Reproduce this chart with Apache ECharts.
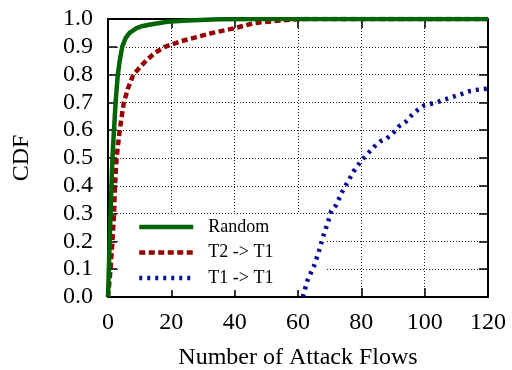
<!DOCTYPE html>
<html>
<head>
<meta charset="utf-8">
<script src="https://cdn.jsdelivr.net/npm/echarts@6/dist/echarts.min.js"></script>
<style>
  html, body { margin: 0; padding: 0; background: #fff; }
  #chart { width: 512px; height: 370px; }
</style>
</head>
<body>
<div id="chart"></div>
<script>
// CDF of the number of attack flows for three placement strategies
const xTicks = [0, 20, 40, 60, 80, 100, 120];
const yTicks = ['0.0', '0.1', '0.2', '0.3', '0.4', '0.5', '0.6', '0.7', '0.8', '0.9', '1.0'];

const seriesNames = ['Random', 'T2 -> T1', 'T1 -> T1'];

const randomFlows = [0, 0.4, 0.8, 1.1, 1.4, 1.9, 2.4, 3.1, 3.7, 4.5, 5.5, 6.8, 9, 11, 13.4, 18.7, 25, 35, 50, 120];
const randomCdf   = [0, 0.15, 0.3, 0.4, 0.5, 0.6, 0.7, 0.8, 0.85, 0.9, 0.93, 0.95, 0.967, 0.975, 0.98, 0.99, 0.995, 0.999, 1.0, 1.0];

const t2t1Flows = [0, 0.8, 1.4, 1.9, 2.2, 2.7, 3.7, 5, 6.3, 8, 12, 15, 18, 23, 28, 33, 40, 46, 52, 58, 62, 120];
const t2t1Cdf   = [0, 0.1, 0.2, 0.3, 0.4, 0.5, 0.6, 0.7, 0.75, 0.8, 0.85, 0.88, 0.9, 0.92, 0.935, 0.95, 0.967, 0.985, 0.992, 0.998, 1.0, 1.0];

const t1t1Flows = [61.5, 63, 65, 66.5, 68, 69.5, 70.5, 72, 74, 76, 78, 80, 82, 84, 86, 88, 90, 92, 94, 96, 98, 100, 102, 105, 108, 111, 114, 117, 120];
const t1t1Cdf   = [0, 0.06, 0.11, 0.16, 0.22, 0.27, 0.31, 0.33, 0.38, 0.42, 0.46, 0.49, 0.515, 0.54, 0.56, 0.57, 0.59, 0.615, 0.63, 0.655, 0.675, 0.69, 0.695, 0.705, 0.717, 0.728, 0.74, 0.746, 0.75];

const pairs = (xs, ys) => xs.map((x, i) => [x, ys[i]]);

const FONT = '"Liberation Serif", "DejaVu Serif", serif';
const axisLine = { show: true, onZero: false, lineStyle: { color: '#000', width: 2 } };
const tickIn = { show: true, inside: true, length: 9, lineStyle: { color: '#000', width: 1.5 } };
const gridDots = { show: true, lineStyle: { color: '#222', width: 1, type: [1, 2] } };

const chart = echarts.init(document.getElementById('chart'), null, { renderer: 'canvas' });
chart.setOption({
  animation: false,
  backgroundColor: '#fff',
  grid: { left: 108, right: 24, top: 19, bottom: 73, containLabel: false, outerBoundsMode: 'none' },
  xAxis: [
    {
      type: 'value', position: 'bottom', min: xTicks[0], max: xTicks[xTicks.length - 1], interval: 20,
      axisLine, axisTick: tickIn, splitLine: gridDots,
      axisLabel: { color: '#000', fontFamily: FONT, fontSize: 24, margin: 14 },
      name: 'Number of Attack Flows', nameLocation: 'middle', nameGap: 49,
      nameTextStyle: { color: '#000', fontFamily: FONT, fontSize: 24 }
    },
    {
      type: 'value', position: 'top', min: xTicks[0], max: xTicks[xTicks.length - 1], interval: 20,
      axisLine, axisTick: tickIn, splitLine: { show: false }, axisLabel: { show: false }
    }
  ],
  yAxis: [
    {
      type: 'value', position: 'left', min: 0, max: 1, interval: 0.1,
      axisLine, axisTick: tickIn, splitLine: gridDots,
      axisLabel: {
        color: '#000', fontFamily: FONT, fontSize: 24, margin: 15,
        formatter: v => yTicks[Math.round(v * 10)]
      },
      name: 'CDF', nameLocation: 'middle', nameGap: 74, nameRotate: 90,
      nameTextStyle: { color: '#000', fontFamily: FONT, fontSize: 24 }
    },
    {
      type: 'value', position: 'right', min: 0, max: 1, interval: 0.1,
      axisLine, axisTick: tickIn, splitLine: { show: false }, axisLabel: { show: false }
    }
  ],
  legend: {
    data: seriesNames,
    orient: 'vertical',
    left: 120, top: 214,
    padding: [4, 52, 3, 17],
    itemWidth: 54, itemHeight: 14, itemGap: 7.5,
    backgroundColor: '#fff',
    z: 1,
    itemStyle: { opacity: 0 },
    lineStyle: { width: 4.5 },
    textStyle: { color: '#000', fontFamily: FONT, fontSize: 18, lineHeight: 18, padding: [0, 0, 0, 10] }
  },
  series: [
    {
      name: seriesNames[0], type: 'line', data: pairs(randomFlows, randomCdf),
      showSymbol: false, symbol: 'none', z: 4,
      lineStyle: { color: '#006400', width: 4.5 }, itemStyle: { color: '#006400' }
    },
    {
      name: seriesNames[1], type: 'line', data: pairs(t2t1Flows, t2t1Cdf),
      showSymbol: false, symbol: 'none', z: 3,
      lineStyle: { color: '#960000', width: 4.5, type: [6, 3.5] }, itemStyle: { color: '#960000' }
    },
    {
      name: seriesNames[2], type: 'line', data: pairs(t1t1Flows, t1t1Cdf),
      showSymbol: false, symbol: 'none', z: 3,
      lineStyle: { color: '#0a0a96', width: 4.5, type: [3, 5] }, itemStyle: { color: '#0a0a96' }
    }
  ]
});
</script>
</body>
</html>
